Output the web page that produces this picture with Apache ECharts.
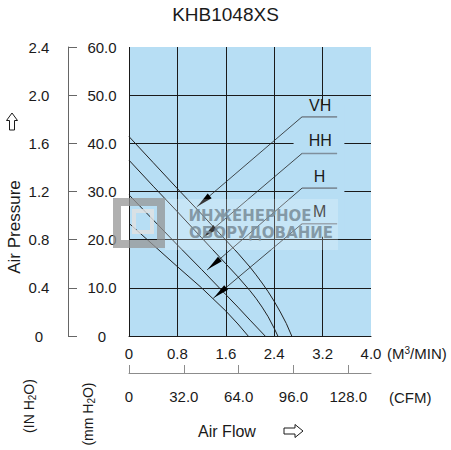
<!DOCTYPE html>
<html><head><meta charset="utf-8">
<script src="https://cdn.jsdelivr.net/npm/echarts@6/dist/echarts.min.js"></script>
<style>html,body{margin:0;padding:0;background:#fff}#c{width:451px;height:450px}</style>
</head><body><div id="c"></div>
<script>
// ---- data ----
const chartTitle = 'KHB1048XS';
const flowTicksM3 = [0, 0.8, 1.6, 2.4, 3.2, 4.0];     // M3/MIN
const flowTicksCFM = [0, 32, 64, 96, 128];            // CFM
const pressTicksMM = [0, 10, 20, 30, 40, 50, 60];     // mm H2O
const pressTicksIN = [0, 0.4, 0.8, 1.2, 1.6, 2.0, 2.4]; // IN H2O
const speedNames = ['VH', 'HH', 'H', 'M'];
const curveVH = [[0, 41.4], [0.4, 36.0], [0.8, 30.6], [1.2, 25.3], [1.6, 19.9], [1.8, 17.2], [2.0, 14.3], [2.1, 12.7], [2.2, 11.0], [2.3, 9.2], [2.4, 7.2], [2.5, 5.0], [2.6, 2.6], [2.69, 0]];
const curveHH = [[0, 36.5], [0.4, 31.1], [0.8, 25.8], [1.2, 20.4], [1.6, 15.0], [1.8, 12.3], [2.0, 9.4], [2.1, 7.8], [2.2, 6.0], [2.3, 4.0], [2.4, 1.6], [2.46, 0]];
const curveH  = [[0, 29.3], [0.4, 24.1], [0.8, 18.9], [1.2, 13.8], [1.6, 8.6], [1.8, 6.0], [2.0, 3.3], [2.25, 0]];
const curveM  = [[0, 23.4], [0.4, 18.9], [0.8, 14.4], [1.2, 10.0], [1.6, 5.2], [1.8, 2.5], [1.97, 0]];
// annotation anchors in data units
const labelPosX = [3.16, 3.16, 3.15, 3.15];
const labelPosY = [47.9, 40.5, 33.1, 25.8];
const underlineX = [2.86, 3.44];
const underlineY = [45.5, 37.9, 30.7, 23.3];
const pointerX = [1.12, 1.21, 1.29, 1.39];
const pointerY = [26.8, 20.3, 13.7, 7.8];
const legendMaskX = [2.72, 3.56];
const legendMaskY = [20.6, 48.1];
const M3_TO_CFM = 35.3147;

const FONT = 'Liberation Sans, Arial, sans-serif';
const PLOT_BG = '#b7def4';
const INK = '#1a1a1a';
const fmt1 = v => (v === 0 ? '0' : v.toFixed(1));

const chart = echarts.init(document.getElementById('c'), null, {renderer: 'svg'});
const curves = [curveVH, curveHH, curveH, curveM];

const WM = 'rgba(120,140,152,0.85)';
const option = {
  animation: false,
  backgroundColor: '#fff',
  grid: {left: 129, top: 47, width: 242, height: 289, show: true, backgroundColor: PLOT_BG, borderWidth: 0},
  xAxis: [
    {type: 'value', position: 'bottom', min: flowTicksM3[0], max: flowTicksM3[flowTicksM3.length - 1], interval: 0.8,
     axisLine: {show: true, onZero: false, lineStyle: {color: INK, width: 1}},
     axisTick: {show: false},
     axisLabel: {margin: 10, fontSize: 15, fontFamily: FONT, color: INK, formatter: fmt1},
     splitLine: {show: true, showMinLine: true, showMaxLine: false, lineStyle: {color: INK, width: 1}}},
    {type: 'value', position: 'bottom', offset: 37, min: 0, max: 4.0 * M3_TO_CFM, interval: 32,
     axisLine: {show: true, onZero: false, lineStyle: {color: '#8c8c8c', width: 1}},
     axisTick: {show: true, inside: true, length: 8, customValues: flowTicksCFM, lineStyle: {color: '#8c8c8c'}},
     axisLabel: {margin: 16, fontSize: 15, fontFamily: FONT, color: INK, customValues: flowTicksCFM, formatter: fmt1},
     splitLine: {show: false}}
  ],
  yAxis: [
    {type: 'value', position: 'left', offset: 61, min: 0, max: 60, interval: 10,
     axisLine: {show: true, onZero: false, lineStyle: {color: '#666', width: 1}},
     axisTick: {show: true, inside: true, length: 9, lineStyle: {color: '#666'}},
     axisLabel: {inside: true, margin: 34, align: 'center', fontSize: 15, fontFamily: FONT, color: INK, formatter: fmt1, padding: [3, 0, 0, 0]},
     splitLine: {show: true, showMinLine: false, showMaxLine: false, lineStyle: {color: INK, width: 1}}},
    {type: 'value', position: 'left', offset: 61, min: 0, max: 2.4, interval: 0.4,
     axisLine: {show: false}, axisTick: {show: false},
     axisLabel: {margin: 29, align: 'center', fontSize: 15, fontFamily: FONT, color: INK, formatter: fmt1, padding: [3, 0, 0, 0]},
     splitLine: {show: false}}
  ],
  series: [
    {type: 'custom', coordinateSystem: 'cartesian2d', xAxisIndex: 0, yAxisIndex: 0, z: 1, silent: true,
     data: [[legendMaskX[0], legendMaskY[0], legendMaskX[1], legendMaskY[1]]],
     renderItem: (params, api) => {
       const a = api.coord([api.value(0), api.value(1)]);
       const b = api.coord([api.value(2), api.value(3)]);
       return {type: 'rect', shape: {x: a[0], y: b[1], width: b[0] - a[0], height: a[1] - b[1]}, style: {fill: PLOT_BG}};
     }},
    ...curves.map((c, i) => ({
      type: 'line', name: speedNames[i], xAxisIndex: 0, yAxisIndex: 0, data: c, showSymbol: false, symbol: 'none',
      smooth: false, z: 3,
      lineStyle: {color: '#222', width: 1}
    })),
    {type: 'custom', coordinateSystem: 'cartesian2d', xAxisIndex: 0, yAxisIndex: 0, z: 4, silent: true,
     data: speedNames.map((n, i) => [underlineX[0], underlineX[1], underlineY[i], pointerX[i], pointerY[i], labelPosX[i], labelPosY[i]]),
     renderItem: (params, api) => {
       const a = api.coord([api.value(0), api.value(2)]);
       const b = api.coord([api.value(1), api.value(2)]);
       const p = api.coord([api.value(3), api.value(4)]);
       const l = api.coord([api.value(5), api.value(6)]);
       const dx = a[0] - p[0], dy = a[1] - p[1];
       const len = Math.hypot(dx, dy);
       const ux = dx / len, uy = dy / len, nx = -uy, ny = ux;
       const bx = p[0] + ux * 17, by = p[1] + uy * 17;
       return {type: 'group', children: [
         {type: 'line', shape: {x1: a[0], y1: a[1], x2: b[0], y2: b[1]}, style: {stroke: '#7f8f9c', lineWidth: 1.6}},
         {type: 'line', shape: {x1: a[0], y1: a[1], x2: p[0], y2: p[1]}, style: {stroke: '#222', lineWidth: 0.8}},
         {type: 'polygon', shape: {points: [[p[0] + ux * 1, p[1] + uy * 1], [bx + nx * 3, by + ny * 3], [bx - nx * 3, by - ny * 3]]}, style: {fill: '#000'}},
         {type: 'text', x: l[0], y: l[1], style: {text: speedNames[params.dataIndex], fill: INK, font: '16px ' + FONT, align: 'center', verticalAlign: 'middle'}}
       ]};
     }}
  ],
  graphic: [
    {type: 'text', left: 'center', top: 5, style: {text: chartTitle, fill: INK, font: '19px ' + FONT}},
    {type: 'text', x: 14, y: 227, rotation: Math.PI / 2, style: {text: 'Air Pressure', fill: INK, font: '17px ' + FONT, align: 'center', verticalAlign: 'middle'}},
    {type: 'polygon', shape: {points: [[12, 113], [17.5, 120.5], [14.5, 120.5], [14.5, 130], [9.5, 130], [9.5, 120.5], [6.5, 120.5]]},
     style: {fill: '#fff', stroke: INK, lineWidth: 1}},
    {type: 'text', x: 29, y: 406, rotation: Math.PI / 2, style: {text: '(IN H{sub|2}O)', fill: INK, font: '14px ' + FONT, align: 'center', verticalAlign: 'middle',
      rich: {sub: {fontSize: 10, fontFamily: FONT, fill: INK, verticalAlign: 'bottom', padding: [6, 0, 0, 0]}}}},
    {type: 'text', x: 88, y: 414, rotation: Math.PI / 2, style: {text: '(mm H{sub|2}O)', fill: INK, font: '14px ' + FONT, align: 'center', verticalAlign: 'middle',
      rich: {sub: {fontSize: 10, fontFamily: FONT, fill: INK, verticalAlign: 'bottom', padding: [6, 0, 0, 0]}}}},
    {type: 'text', x: 387, y: 353, style: {text: '(M{sup|3}/MIN)', fill: INK, font: '15px ' + FONT, align: 'left', verticalAlign: 'middle',
      rich: {sup: {fontSize: 10, fontFamily: FONT, fill: INK, verticalAlign: 'top', padding: [0, 0, 6, 0]}}}},
    {type: 'text', x: 389, y: 397, style: {text: '(CFM)', fill: INK, font: '15px ' + FONT, align: 'left', verticalAlign: 'middle'}},
    {type: 'text', x: 227, y: 431, style: {text: 'Air Flow', fill: INK, font: '16px ' + FONT, align: 'center', verticalAlign: 'middle'}},
    {type: 'polygon', shape: {points: [[284, 428], [295, 428], [295, 424.5], [303, 431], [295, 437.5], [295, 434], [284, 434]]},
     style: {fill: '#fff', stroke: INK, lineWidth: 1}},
    // watermark
    {type: 'rect', z: 100, silent: true, shape: {x: 165, y: 199, width: 173, height: 51}, style: {fill: 'rgba(255,255,255,0.22)'}},
    {type: 'rect', z: 100, silent: true, shape: {x: 117, y: 202, width: 44, height: 42}, style: {fill: 'none', stroke: 'rgba(150,150,150,0.75)', lineWidth: 8}},
    {type: 'rect', z: 100, silent: true, shape: {x: 134, y: 211, width: 18, height: 21}, style: {fill: 'none', stroke: 'rgba(225,225,225,0.8)', lineWidth: 4}},
    {type: 'text', z: 100, silent: true, x: 250, y: 216, style: {text: 'ИНЖЕНЕРНОЕ', fill: WM, font: 'bold 15px DejaVu Sans', align: 'center', verticalAlign: 'middle'}},
    {type: 'text', z: 100, silent: true, x: 261, y: 233, style: {text: 'ОБОРУДОВАНИЕ', fill: WM, font: 'bold 15px DejaVu Sans', align: 'center', verticalAlign: 'middle'}}
  ]
};
chart.setOption(option);
</script></body></html>
